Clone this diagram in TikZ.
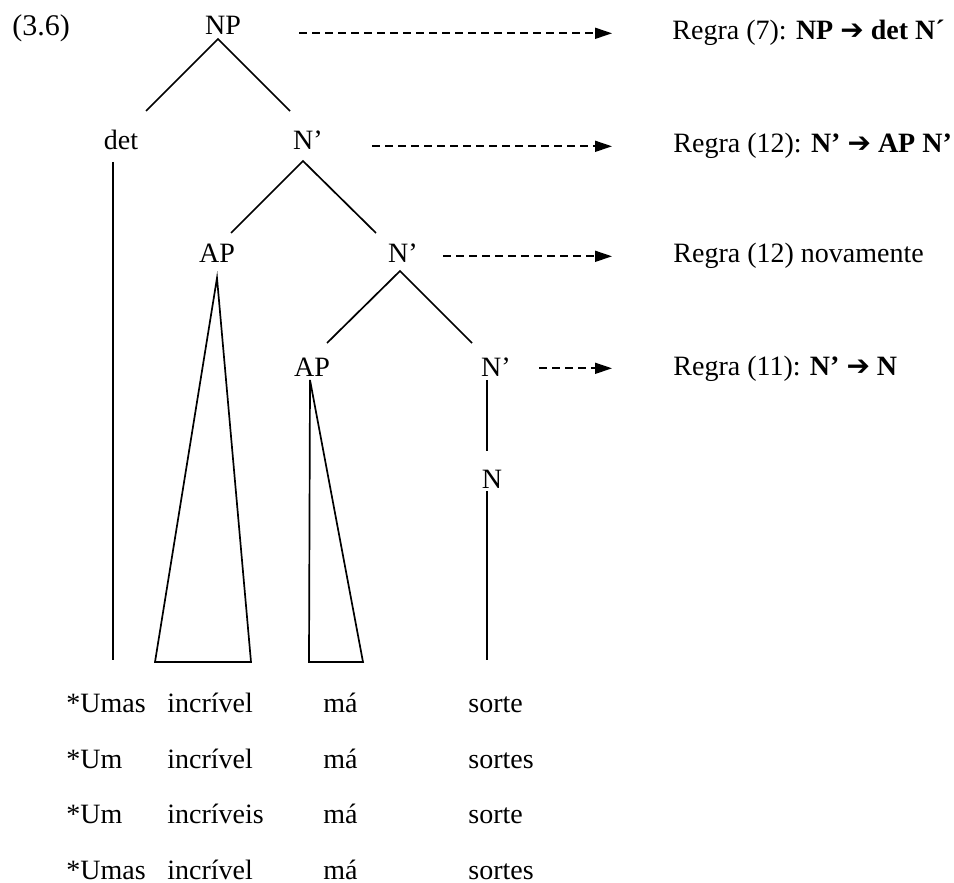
\documentclass[tikz,border=0pt]{standalone}
\usepackage{fontspec}
\setmainfont{Liberation Serif}
\newfontfamily\arrowfont{DejaVu Sans}
\usetikzlibrary{arrows.meta}
\newcommand{\rulearrow}{{\arrowfont\bfseries ➔}}
\tikzset{
  label text/.style={anchor=base,inner sep=0pt,font=\fontsize{14}{16}\selectfont},
  rule text/.style={anchor=base west,inner sep=0pt,font=\fontsize{14}{16}\selectfont},
  word text/.style={anchor=base west,inner sep=0pt,font=\fontsize{14}{16}\selectfont},
  branch/.style={line width=0.85pt},
  rule link/.style={line width=0.85pt,dash pattern=on 4pt off 2.5pt,
    -{Triangle[length=8.5pt,width=5.5pt]}}
}
\begin{document}
\begin{tikzpicture}[x=0.5pt,y=-0.5pt]
        \useasboundingbox (0,0) rectangle (954,883);
        % tree labels
        \node [rule text,font=\fontsize{15}{18}\selectfont] (example number) at (12,36) {(3.6)};
        \node [label text] (np) at (223,35) {NP};
        \node [label text] (det) at (121,150) {det};
        \node [label text] (nbar1) at (308,150) {N’};
        \node [label text] (ap1) at (217,263) {AP};
        \node [label text] (nbar2) at (403,263) {N’};
        \node [label text] (ap2) at (312,376) {AP};
        \node [label text] (nbar3) at (496,376) {N’};
        \node [label text] (n) at (492,488) {N};
        % rules
        \node [rule text] (rule7) at (672,40)
          {Regra (7): \textbf{NP \rulearrow{} det N´}};
        \node [rule text] (rule12) at (673,153)
          {Regra (12): \textbf{N’ \rulearrow{} AP N’}};
        \node [rule text] (rule12 again) at (673,263)
          {Regra (12) novamente};
        \node [rule text] (rule11) at (673,375)
          {Regra (11): \textbf{N’ \rulearrow{} N}};
        % branch ends
        \coordinate (np top) at (218,39);
        \coordinate (det top) at (146,111);
        \coordinate (nbar1 top) at (290,111);
        \coordinate (det bottom) at (113,660);
        \coordinate (nbar1 apex) at (303,161);
        \coordinate (ap1 end) at (231,233);
        \coordinate (nbar2 end) at (376,233);
        \coordinate (nbar2 apex) at (400,271);
        \coordinate (ap2 end) at (327,343);
        \coordinate (nbar3 end) at (472,343);
        % branches
        \draw [branch]
          (det top) -- (np top) -- (nbar1 top)
        ;
        \draw [branch]
          (113,162) -- (det bottom)
        ;
        \draw [branch]
          (ap1 end) -- (nbar1 apex) -- (nbar2 end)
        ;
        \draw [branch]
          (ap2 end) -- (nbar2 apex) -- (nbar3 end)
        ;
        \draw [branch]
          (217,278) -- (155,662) -- (251,662) -- cycle
        ;
        \draw [branch]
          (310,380) -- (309,662) -- (363,662) -- cycle
        ;
        \draw [branch]
          (487,380) -- (487,451)
          (487,491) -- (487,660)
        ;
        % dashed links to the rules
        \draw [rule link,shorten <=29pt,shorten >=30pt]
          (rule7.west -| np.east) -- (rule7.west);
        \draw [rule link,shorten <=24.5pt,shorten >=30.5pt]
          (rule12.west -| nbar1.east) -- (rule12.west);
        \draw [rule link,shorten <=12.5pt,shorten >=30.5pt]
          (rule12 again.west -| nbar2.east) -- (rule12 again.west);
        \draw [rule link,shorten <=14pt,shorten >=30.5pt]
          (rule11.west -| nbar3.east) -- (rule11.west);
        % sentences
        \foreach \first/\second/\third/\fourth [count=\row] in
          {*Umas/incrível/má/sorte,
           *Um/incrível/má/sortes,
           *Um/incríveis/má/sorte,
           *Umas/incrível/má/sortes}
        {
          \node [word text] (w\row a) at (66,657+55.5*\row) {\first};
          \node [word text] (w\row b) at (167,657+55.5*\row) {\second};
          \node [word text] (w\row c) at (323,657+55.5*\row) {\third};
          \node [word text] (w\row d) at (468,657+55.5*\row) {\fourth};
        }
      \end{tikzpicture}
\end{document}
